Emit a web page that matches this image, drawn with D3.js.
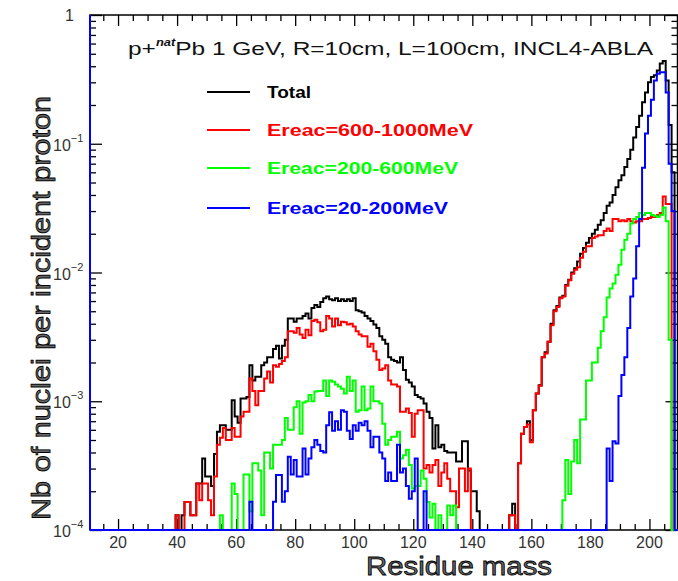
<!DOCTYPE html>
<html>
<head>
<meta charset="utf-8">
<script src="https://cdn.jsdelivr.net/npm/d3@7"></script>
<style>
  body { margin: 0; background: #fff; }
  svg { display: block; font-family: "Liberation Sans", Arial, sans-serif; }
</style>
</head>
<body>
<div id="chart"></div>
<script>
// histogram bins: one value per residue mass, first bin = massFirst, 0 = empty bin
const massFirst = 38;

const total = [
  0, 0, 1.3e-4, 0, 1.3e-4, 1.65e-4, 1.65e-4, 1.3e-4, 1.3e-4, 2.3e-4,                 // 38-47
  2.3e-4, 3.6e-4, 2.6e-4, 2.6e-4, 2.2e-4, 3.9e-4, 5.8e-4, 6.5e-4, 6.5e-4, 6.0e-4,    // 48-57
  6.0e-4, 1.02e-3, 7.6e-4, 6.8e-4, 1.05e-3, 1.05e-3, 1.08e-3, 1.9e-3, 1.45e-3, 1.55e-3, // 58-67
  1.55e-3, 1.9e-3, 2.0e-3, 2.2e-3, 2.2e-3, 2.55e-3, 2.7e-3, 2.15e-3, 2.7e-3, 3.0e-3, // 68-77
  4.4e-3, 4.4e-3, 4.15e-3, 4.4e-3, 4.4e-3, 4.6e-3, 4.8e-3, 4.4e-3, 5.3e-3, 5.6e-3,   // 78-87
  5.4e-3, 5.9e-3, 6.3e-3, 6.5e-3, 6.2e-3, 6.1e-3, 6.3e-3, 6.0e-3, 6.2e-3, 6.0e-3,    // 88-97
  6.2e-3, 6.0e-3, 6.3e-3, 5.1e-3, 5.0e-3, 4.9e-3, 4.6e-3, 4.4e-3, 4.2e-3, 3.95e-3,   // 98-107
  3.7e-3, 3.2e-3, 3.0e-3, 2.8e-3, 2.2e-3, 2.1e-3, 2.05e-3, 2.0e-3, 2.2e-3, 1.75e-3,  // 108-117
  1.47e-3, 1.4e-3, 1.3e-3, 1.12e-3, 1.08e-3, 1.05e-3, 9.6e-4, 8.3e-4, 7.4e-4, 4.3e-4, // 118-127
  6.5e-4, 4.4e-4, 4.6e-4, 4.1e-4, 4.0e-4, 4.0e-4, 4.0e-4, 3.4e-4, 3.4e-4, 4.9e-4,    // 128-137
  4.9e-4, 2.9e-4, 2.0e-4, 2.0e-4, 1.4e-4, 0, 0, 0, 0, 0,                             // 138-147
  0, 0, 0, 0, 0, 1.3e-4, 1.6e-4, 0, 3.3e-4, 5.6e-4,                                  // 148-157
  6.3e-4, 7.0e-4, 5.0e-4, 8.5e-4, 1.15e-3, 1.33e-3, 2.2e-3, 2.4e-3, 2.9e-3, 4.0e-3,  // 158-167
  5.1e-3, 5.5e-3, 6.4e-3, 6.6e-3, 8.0e-3, 8.8e-3, 1.0e-2, 1.08e-2, 1.22e-2, 1.4e-2,  // 168-177
  1.55e-2, 1.7e-2, 1.85e-2, 2.0e-2, 2.15e-2, 2.35e-2, 2.55e-2, 2.9e-2, 3.3e-2, 3.5e-2, // 178-187
  4.0e-2, 4.6e-2, 5.2e-2, 5.7e-2, 6.6e-2, 7.6e-2, 9.0e-2, 0.112, 0.135, 0.165,       // 188-197
  0.21, 0.25, 0.30, 0.33, 0.34, 0.37, 0.42, 0.44, 0.31, 0.14, 0.06                   // 198-208
];

// Ereac = 600-1000 MeV
const ereacHigh = [
  0, 0, 1.3e-4, 0, 0, 1.65e-4, 1.65e-4, 1.3e-4, 1.3e-4, 2.3e-4,
  1.7e-4, 2.3e-4, 2.3e-4, 1.7e-4, 1.3e-4, 2.6e-4, 4.6e-4, 5.2e-4, 6.2e-4, 5.0e-4,
  5.0e-4, 6.2e-4, 5.3e-4, 5.3e-4, 7.6e-4, 8.3e-4, 8.3e-4, 1.5e-3, 1.2e-3, 9.3e-4,
  1.2e-3, 1.2e-3, 1.5e-3, 1.7e-3, 1.4e-3, 1.9e-3, 1.85e-3, 1.95e-3, 2.05e-3, 2.2e-3,
  3.5e-3, 3.5e-3, 3.4e-3, 3.7e-3, 3.3e-3, 3.1e-3, 3.6e-3, 3.25e-3, 4.2e-3, 4.3e-3,
  4.1e-3, 3.5e-3, 3.6e-3, 4.6e-3, 4.4e-3, 3.8e-3, 4.4e-3, 3.9e-3, 4.15e-3, 4.1e-3,
  3.95e-3, 4.0e-3, 3.8e-3, 3.5e-3, 3.3e-3, 3.2e-3, 3.2e-3, 2.65e-3, 2.8e-3, 2.45e-3,
  2.1e-3, 1.75e-3, 1.8e-3, 1.9e-3, 1.45e-3, 1.35e-3, 1.35e-3, 1.3e-3, 8.3e-4, 8.3e-4,
  8.8e-4, 8.1e-4, 5.3e-4, 8.0e-4, 8.5e-4, 8.5e-4, 3.0e-4, 3.2e-4, 2.8e-4, 3.2e-4,
  3.5e-4, 2.2e-4, 2.8e-4, 3.3e-4, 2.5e-4, 2.0e-4, 2.0e-4, 1.5e-4, 3.0e-4, 3.0e-4,
  2.0e-4, 3.0e-4, 0, 0, 0, 0, 0, 0, 0, 0,
  0, 0, 0, 0, 0, 1.3e-4, 1.3e-4, 0, 3.3e-4, 5.6e-4,
  6.3e-4, 6.6e-4, 4.8e-4, 8.5e-4, 1.15e-3, 1.32e-3, 2.2e-3, 2.35e-3, 2.9e-3, 3.9e-3,
  5.0e-3, 5.4e-3, 6.3e-3, 6.5e-3, 7.9e-3, 8.7e-3, 9.8e-3, 1.05e-2, 1.1e-2, 1.3e-2,
  1.45e-2, 1.6e-2, 1.6e-2, 1.85e-2, 1.9e-2, 1.95e-2, 1.95e-2, 2.1e-2, 2.2e-2, 2.1e-2,
  2.6e-2, 2.6e-2, 2.5e-2, 2.55e-2, 2.5e-2, 2.6e-2, 2.5e-2, 2.45e-2, 2.5e-2, 2.5e-2,
  2.6e-2, 2.6e-2, 2.65e-2, 2.7e-2, 2.7e-2, 2.8e-2, 2.9e-2, 3.9e-2, 3.4e-2, 3.4e-2, 0
];

// Ereac = 200-600 MeV
const ereacMid = [
  0, 0, 0, 0, 0, 0, 0, 0, 0, 0,
  0, 0, 0, 0, 0, 0, 0, 1.3e-4, 0, 0,
  0, 2.3e-4, 1.9e-4, 0, 0, 2.7e-4, 2.7e-4, 1.4e-4, 3.3e-4, 3.3e-4,
  2.9e-4, 1.3e-4, 4.0e-4, 4.0e-4, 3.0e-4, 4.6e-4, 4.6e-4, 4.6e-4, 5.0e-4, 7.4e-4,
  6.0e-4, 6.0e-4, 9.0e-4, 1.0e-3, 5.6e-4, 9.8e-4, 1.0e-3, 1.12e-3, 1.0e-3, 1.19e-3,
  1.2e-3, 1.2e-3, 1.45e-3, 1.1e-3, 1.45e-3, 1.42e-3, 1.35e-3, 1.3e-3, 1.25e-3, 1.15e-3,
  1.55e-3, 1.2e-3, 1.45e-3, 8.3e-4, 8.5e-4, 1.3e-3, 8.5e-4, 8.8e-4, 1.3e-3, 1.0e-3,
  1.0e-3, 9.6e-4, 6.7e-4, 4.6e-4, 5.0e-4, 5.3e-4, 5.3e-4, 5.8e-4, 3.6e-4, 3.8e-4,
  4.2e-4, 3.2e-4, 2.1e-4, 2.2e-4, 2.2e-4, 2.9e-4, 2.5e-4, 1.65e-4, 1.25e-4, 1.6e-4,
  0, 1.3e-4, 0, 0, 1.55e-4, 1.3e-4, 1.55e-4, 0, 0, 0,
  0, 0, 0, 0, 0, 0, 0, 0, 0, 0,
  0, 0, 0, 0, 0, 0, 0, 0, 0, 0,
  0, 0, 0, 0, 0, 0, 0, 0, 0, 0,
  0, 0, 0, 1.7e-4, 3.5e-4, 1.9e-4, 3.4e-4, 5.0e-4, 3.3e-4, 7.2e-4,
  7.2e-4, 1.45e-3, 1.45e-3, 2.0e-3, 2.0e-3, 2.6e-3, 3.5e-3, 4.5e-3, 6.4e-3, 7.5e-3,
  8.2e-3, 9.6e-3, 1.15e-2, 1.5e-2, 1.8e-2, 2.0e-2, 2.4e-2, 2.6e-2, 2.7e-2, 2.9e-2,
  2.8e-2, 2.9e-2, 2.9e-2, 2.8e-2, 2.75e-2, 2.7e-2, 2.8e-2, 3.2e-2, 2.5e-2, 3.0e-3, 0
];

// Ereac = 20-200 MeV
const ereacLow = [
  0, 0, 0, 0, 0, 0, 0, 0, 0, 0,
  0, 0, 0, 0, 0, 0, 0, 0, 0, 0,
  0, 0, 0, 0, 0, 0, 0, 1.66e-4, 0, 0,
  0, 0, 0, 0, 0, 1.66e-4, 2.67e-4, 2.67e-4, 1.66e-4, 2.0e-4,
  3.7e-4, 2.7e-4, 3.5e-4, 2.6e-4, 2.6e-4, 4.3e-4, 2.7e-4, 3.6e-4, 4.4e-4, 5.0e-4,
  4.6e-4, 4.1e-4, 4.0e-4, 6.5e-4, 8.2e-4, 5.9e-4, 7.0e-4, 6.0e-4, 8.5e-4, 8.3e-4,
  5.9e-4, 5.1e-4, 6.5e-4, 5.9e-4, 6.8e-4, 6.5e-4, 7.0e-4, 5.9e-4, 4.4e-4, 5.3e-4,
  5.3e-4, 4.0e-4, 3.6e-4, 2.4e-4, 2.8e-4, 2.4e-4, 2.4e-4, 4.6e-4, 2.8e-4, 3.0e-4,
  2.2e-4, 1.75e-4, 2.0e-4, 3.6e-4, 0, 0, 2.0e-4, 0, 0, 0,
  0, 0, 0, 0, 0, 0, 0, 0, 0, 0,
  0, 0, 0, 0, 0, 0, 0, 0, 0, 0,
  0, 0, 0, 0, 0, 0, 0, 0, 0, 0,
  0, 0, 0, 0, 0, 0, 0, 0, 0, 0,
  0, 0, 0, 0, 0, 0, 0, 0, 0, 0,
  0, 0, 0, 0, 0, 0, 0, 0, 4.3e-4, 2.4e-4,
  4.9e-4, 4.7e-4, 1.1e-3, 1.6e-3, 2.2e-3, 3.7e-3, 6.5e-3, 9.0e-3, 1.6e-2, 2.6e-2,
  6.5e-2, 0.12, 0.165, 0.22, 0.31, 0.35, 0.36, 0.36, 0.25, 0.07, 0.03
];

const seriesNames = ['Total', 'Ereac=600-1000MeV', 'Ereac=200-600MeV', 'Ereac=20-200MeV'];
const seriesColors = ['#000000', '#ff0000', '#00ff00', '#0000ff'];
const seriesValues = [total, ereacHigh, ereacMid, ereacLow];

const xTicksMajor = [20, 40, 60, 80, 100, 120, 140, 160, 180, 200];
const yDecades = [1e-4, 1e-3, 1e-2, 1e-1, 1];
const yDecadeLabels = [['10', '\u22124'], ['10', '\u22123'], ['10', '\u22122'], ['10', '\u22121'], ['1', '']];

const titleText = 'Pb  1 GeV, R=10cm, L=100cm, INCL4-ABLA';

// layout
const width = 678, height = 581;
const margin = {t: 15, r: 0.5, b: 51, l: 90};
const plotW = width - margin.l - margin.r;
const plotH = height - margin.t - margin.b;

const svg = d3.select('#chart').append('svg')
  .attr('width', width)
  .attr('height', height);

// scales (histogram axis runs from 10.5 to 209.5, integer-centred bins)
const x = d3.scaleLinear().domain([10.5, 209.5]).range([margin.l, margin.l + plotW]);
const y = d3.scaleLog().domain([1e-4, 1]).range([margin.t + plotH, margin.t]).clamp(true);

svg.append('clipPath').attr('id', 'plot-clip')
  .append('rect')
  .attr('x', margin.l - 1).attr('y', margin.t - 1)
  .attr('width', plotW + 2).attr('height', plotH + 2);

// frame with ticks on all four sides
const minorX = d3.range(15, 210, 5).filter(v => v % 20 !== 0);
const minorY = [];
yDecades.slice(0, -1).forEach(d => { for (let k = 2; k <= 9; k++) minorY.push(d * k); });

function tickGroup(axisFn, scale, values, size, tx, ty) {
  svg.append('g')
    .attr('class', 'frame-axis')
    .attr('transform', `translate(${tx},${ty})`)
    .call(axisFn(scale).tickValues(values).tickSize(size).tickFormat(''))
    .call(g => g.select('.domain').remove())
    .call(g => g.selectAll('line').attr('stroke', '#000').attr('stroke-width', 1.3));
}
const bottomY = margin.t + plotH;
const rightX = margin.l + plotW;
tickGroup(d3.axisBottom, x, xTicksMajor, -11, 0, bottomY);
tickGroup(d3.axisBottom, x, minorX, -6, 0, bottomY);
tickGroup(d3.axisTop, x, xTicksMajor, -11, 0, margin.t);
tickGroup(d3.axisTop, x, minorX, -6, 0, margin.t);
tickGroup(d3.axisLeft, y, yDecades, -12, margin.l, 0);
tickGroup(d3.axisLeft, y, minorY, -6, margin.l, 0);
tickGroup(d3.axisRight, y, yDecades, -12, rightX, 0);
tickGroup(d3.axisRight, y, minorY, -6, rightX, 0);

svg.append('rect')
  .attr('x', margin.l).attr('y', margin.t)
  .attr('width', plotW).attr('height', plotH)
  .attr('fill', 'none').attr('stroke', '#000').attr('stroke-width', 1.5);

// histograms, drawn as steps from bin edges
const allMasses = d3.range(11, 210);
const line = d3.line()
  .x(d => x(d.edge))
  .y(d => y(d.v > 0 ? d.v : 1e-4))
  .curve(d3.curveStepAfter);

const plot = svg.append('g').attr('clip-path', 'url(#plot-clip)');
seriesValues.forEach((vals, i) => {
  const pts = allMasses.map(m => {
    const k = m - massFirst;
    return {edge: m - 0.5, v: (k >= 0 && k < vals.length) ? vals[k] : 0};
  });
  pts.push({edge: 209.5, v: pts[pts.length - 1].v});
  plot.append('path')
    .datum(pts)
    .attr('d', line)
    .attr('fill', 'none')
    .attr('stroke', seriesColors[i])
    .attr('stroke-width', 2)
    .attr('stroke-linejoin', 'miter');
});

// left frame edge is overdrawn in blue in the original
svg.append('line')
  .attr('x1', margin.l).attr('x2', margin.l)
  .attr('y1', margin.t).attr('y2', bottomY)
  .attr('stroke', '#0000ff').attr('stroke-width', 2);

// tick labels
svg.append('g').selectAll('text')
  .data(xTicksMajor)
  .join('text')
  .attr('x', d => x(d))
  .attr('y', 548)
  .attr('text-anchor', 'middle')
  .attr('font-size', 16)
  .attr('fill', '#333')
  .text(d => d);

const yLab = svg.append('g').selectAll('text')
  .data(yDecades)
  .join('text')
  .attr('x', (d, i) => i === 4 ? 74 : 53)
  .attr('y', (d, i) => y(d) + (i === 4 ? 6 : 7))
  .attr('text-anchor', (d, i) => i === 4 ? 'end' : 'start')
  .attr('font-size', 16)
  .attr('fill', '#333');
yLab.append('tspan').text((d, i) => yDecadeLabels[i][0]);
yLab.append('tspan')
  .attr('dy', -9)
  .attr('font-size', 11)
  .text((d, i) => yDecadeLabels[i][1]);

// axis titles (outlined look of the original)
svg.append('text')
  .attr('x', 459).attr('y', 575)
  .attr('text-anchor', 'middle')
  .attr('font-size', 26)
  .attr('fill', '#666').attr('stroke', '#000').attr('stroke-width', 0.8)
  .attr('textLength', 186).attr('lengthAdjust', 'spacingAndGlyphs')
  .text('Residue mass');

svg.append('text')
  .attr('transform', 'translate(50,308) rotate(-90)')
  .attr('text-anchor', 'middle')
  .attr('font-size', 26)
  .attr('fill', '#666').attr('stroke', '#000').attr('stroke-width', 0.8)
  .attr('textLength', 424).attr('lengthAdjust', 'spacingAndGlyphs')
  .text('Nb of nuclei per incident proton');

// title
const title = svg.append('text')
  .attr('x', 128).attr('y', 55)
  .attr('font-size', 19)
  .attr('fill', '#111');
title.append('tspan').text('p+');
title.append('tspan').attr('dy', -9).attr('font-size', 10)
  .attr('font-weight', 'bold').attr('font-style', 'italic').text('nat');
title.append('tspan').attr('dy', 9).text(titleText);
title.attr('textLength', 525).attr('lengthAdjust', 'spacingAndGlyphs');

// legend
const legendY = [92, 130, 168, 208];
const legendW = [44, 206, 191, 181];
const legend = svg.append('g').selectAll('g')
  .data(seriesNames)
  .join('g')
  .attr('transform', (d, i) => `translate(0,${legendY[i]})`);
legend.append('line')
  .attr('x1', 207).attr('x2', 250)
  .attr('stroke', (d, i) => seriesColors[i])
  .attr('stroke-width', 2);
legend.append('text')
  .attr('x', 267).attr('y', 6)
  .attr('font-size', 17).attr('font-weight', 'bold')
  .attr('fill', (d, i) => seriesColors[i])
  .attr('textLength', (d, i) => legendW[i]).attr('lengthAdjust', 'spacingAndGlyphs')
  .text(d => d);
</script>
</body>
</html>
